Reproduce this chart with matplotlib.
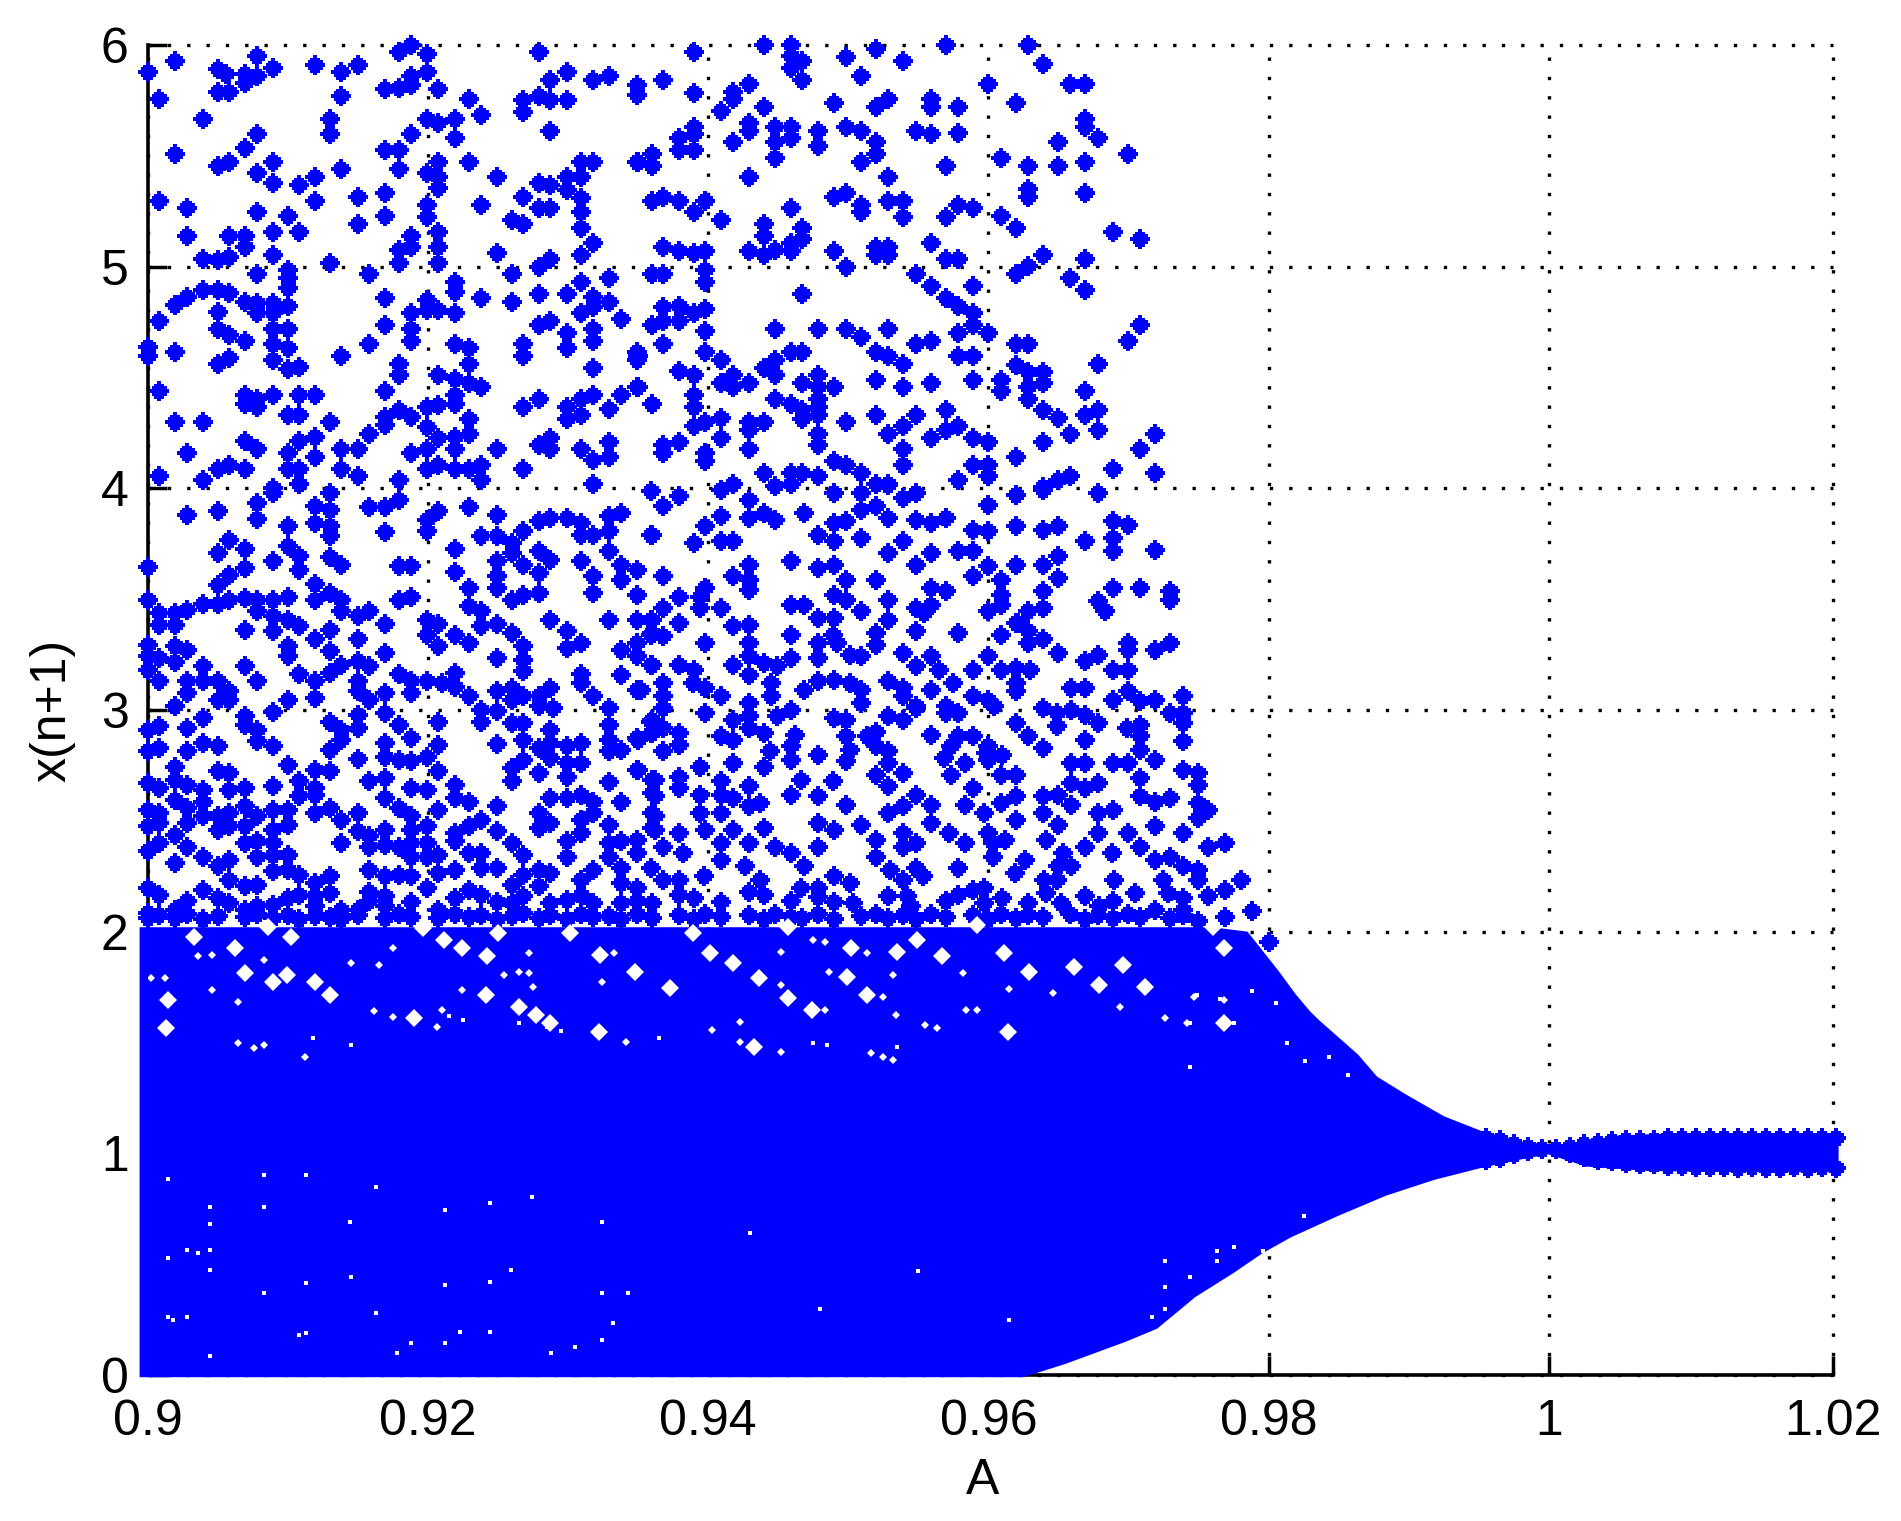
import matplotlib
matplotlib.use("Agg")
from matplotlib import pyplot as plt

plt.rcParams['font.family'] = ['Liberation Sans', 'DejaVu Sans']

x_ticks = [0.9, 0.92, 0.94, 0.96, 0.98, 1.0, 1.0203]
x_tick_labels = ['0.9', '0.92', '0.94', '0.96', '0.98', '1', '1.02']
y_ticks = [0, 1, 2, 3, 4, 5, 6]

# envelope of the solid part
upper_A = [0.8994, 0.91, 0.93, 0.95, 0.97, 0.976, 0.9785, 0.9795, 0.98075, 0.98191, 0.98297, 0.98362, 0.9864, 0.98775, 0.9898,
           0.99253, 0.99523, 0.99794, 0.99986, 1.0006, 1.00275, 1.00478, 1.0089, 1.0145, 1.0207]
upper_x = [2.02, 2.02, 2.02, 2.02, 2.02, 2.02, 2.0, 1.92, 1.82, 1.72, 1.64, 1.60, 1.445, 1.346, 1.266,
           1.167, 1.10, 1.055, 1.04, 1.03, 1.055, 1.08, 1.09, 1.09, 1.08]
lower_A = [0.8994, 0.9625, 0.9655, 0.9698, 0.97205, 0.97478, 0.9775, 0.97956, 0.9816, 0.98501, 0.98839, 0.99181,
           0.99523, 0.99859, 1.0, 1.0027, 1.0072, 1.014, 1.0207]
lower_x = [-0.01, -0.01, 0.05, 0.15, 0.209, 0.352, 0.46, 0.549, 0.621, 0.719, 0.809, 0.88,
           0.935, 0.98, 0.995, 0.94, 0.92, 0.915, 0.915]

# serrated tail, marker centres along both edges
tail_A = [.9955, .9965, .9975, .9985, .9995, 1.0005, 1.0015, 1.0025, 1.0035, 1.0045, 1.0055, 1.0065, 1.0075, 1.0085, 1.0095, 1.0105,
          1.0115, 1.0125, 1.0135, 1.0145, 1.0155, 1.0165, 1.0175, 1.0185, 1.0195, 1.0205]
tail_top = [1.07, 1.06, 1.04, 1.03, 1.02, 1.02, 1.03, 1.04, 1.045, 1.055, 1.06, 1.06, 1.06, 1.07, 1.07, 1.068,
            1.07, 1.068, 1.07, 1.068, 1.07, 1.068, 1.07, 1.068, 1.07, 1.068]
tail_bottom = [.97, .98, .995, 1.01, 1.02, 1.02, 1.0, .985, .97, .965, .955, .95, .95, .945, .945, .94,
               .938, .94, .936, .94, .936, .935, .94, .935, .938, .935]

# scattered points above the solid part
points_5_6 = [(.9188,6.0),(.9179,5.97),(.9199,5.96),(.9279,5.97),(.9019,5.93),(.9078,5.95),(.9,5.88),(.905,5.89),(.9056,5.87),
 (.9069,5.87),(.9078,5.86),(.9089,5.895),(.905,5.79),(.9058,5.79),(.9069,5.83),(.9119,5.91),(.9138,5.88),(.915,5.91),(.9199,5.88),
 (.9188,5.86),(.9169,5.80),(.9179,5.805),(.9188,5.82),(.9207,5.80),(.9299,5.88),(.9287,5.84),(.9318,5.84),(.9329,5.86),(.9349,5.82),
 (.9349,5.775),(.9008,5.755),(.9138,5.77),(.9229,5.755),(.9268,5.75),(.9279,5.77),(.9287,5.75),(.9299,5.75),(.9268,5.70),
 (.9039,5.666),(.913,5.666),(.9199,5.666),(.9207,5.65),(.9219,5.666),(.9238,5.684),(.9078,5.597),(.913,5.597),(.9188,5.597),(.9219,5.579),(.9287,5.613),
 (.9069,5.534),(.9019,5.508),(.9169,5.526),(.9179,5.526),(.936,5.508),(.9349,5.473),(.905,5.455),(.9058,5.473),(.9089,5.473),(.9078,5.421),
 (.9138,5.439),(.9179,5.439),(.9207,5.473),(.9229,5.473),(.9309,5.473),(.9318,5.473),(.9199,5.421),(.9249,5.403),(.9119,5.403),(.9108,5.368),(.9089,5.376),
 (.9207,5.403),(.9207,5.353),(.9279,5.376),(.9287,5.368),(.9299,5.403),(.9309,5.403),(.9299,5.346),(.9309,5.308),(.9008,5.297),(.9028,5.263),(.9119,5.297),
 (.915,5.315),(.9169,5.333),(.9268,5.315),(.9199,5.278),(.9238,5.28),(.936,5.297),(.9279,5.263),(.9287,5.263),(.9309,5.248),(.9078,5.245),(.91,5.228),(.9169,5.228),
 (.9199,5.225),(.915,5.192),(.926,5.21),(.9268,5.192),(.9028,5.139),(.9058,5.139),(.9069,5.139),(.9089,5.157),(.9108,5.157),(.9207,5.157),(.9188,5.139),(.9309,5.175),
 (.9069,5.09),(.9188,5.09),(.9207,5.087),(.9318,5.105),(.9249,5.06),(.9179,5.075),(.9039,5.035),(.905,5.03),(.9058,5.045),(.9089,5.052),(.913,5.018),(.9179,5.018),
 (.9207,5.018),(.9287,5.035),(.9279,5.0),(.9309,5.052),
 (.944,6.0),(.9459,6.0),(.952,5.98),(.957,6.0),(.9628,6.0),(.939,5.967),(.9459,5.95),(.9467,5.93),(.9498,5.948),(.9539,5.93),(.9639,5.913),(.9459,5.895),(.9509,5.86),
 (.9467,5.842),(.9368,5.842),(.9429,5.824),(.96,5.824),(.9658,5.824),(.9669,5.824),(.939,5.782),(.9418,5.79),(.9418,5.755),(.9409,5.704),(.944,5.719),(.949,5.737),
 (.9528,5.755),(.952,5.719),(.9559,5.755),(.9559,5.719),(.9578,5.719),(.962,5.737),(.9669,5.666),(.9669,5.631),(.9678,5.579),(.9429,5.65),(.9429,5.613),(.939,5.631),
 (.9379,5.579),(.939,5.597),(.9448,5.631),(.9459,5.631),(.9459,5.579),(.9448,5.561),(.9478,5.613),(.9478,5.544),(.9498,5.631),(.9509,5.613),(.952,5.561),(.9548,5.613),
 (.9559,5.597),(.9578,5.604),(.9418,5.561),(.965,5.561),(.9379,5.526),(.939,5.526),(.936,5.455),(.935,5.473),(.9448,5.491),(.952,5.508),(.9509,5.473),(.957,5.455),
 (.9609,5.491),(.9628,5.455),(.965,5.455),(.9669,5.473),(.97,5.508),(.9429,5.403),(.9528,5.403),(.9628,5.35),(.9669,5.333),(.9628,5.315),(.9368,5.315),(.9379,5.297),
 (.9398,5.297),(.939,5.245),(.9409,5.21),(.949,5.315),(.9498,5.333),(.9509,5.28),(.9509,5.245),(.9528,5.297),(.9539,5.297),(.9539,5.225),(.9459,5.263),(.9578,5.28),
 (.9589,5.263),(.957,5.225),(.9609,5.228),(.962,5.175),(.944,5.192),(.944,5.139),(.9467,5.175),(.9467,5.127),(.9459,5.105),(.9689,5.157),(.9708,5.123),(.9559,5.105),
 (.9368,5.087),(.9379,5.07),(.939,5.06),(.9398,5.07),(.9429,5.07),(.944,5.052),(.9448,5.075),(.9459,5.07),(.949,5.07),(.952,5.087),(.9528,5.087),(.952,5.052),(.9528,5.052),
 (.957,5.035),(.9578,5.035),(.9639,5.052),(.9669,5.035),(.9628,5.002),(.9498,5.0)]

points_4_5 = [(.9078,4.965),(.91,4.984),(.91,4.947),(.91,4.902),(.9158,4.965),(.926,4.965),(.9329,4.947),(.936,4.965),(.9219,4.932),(.9309,4.932),(.9219,4.887),
 (.9039,4.894),(.905,4.894),(.9058,4.879),(.9028,4.864),(.9019,4.826),(.9069,4.841),(.9078,4.834),(.9089,4.834),(.91,4.823),(.9169,4.86),(.9199,4.849),(.9238,4.86),(.926,4.841),
 (.9279,4.876),(.9299,4.876),(.9318,4.864),(.9329,4.841),(.9008,4.754),(.905,4.796),(.9078,4.789),(.9089,4.789),(.9188,4.789),(.9199,4.804),(.9207,4.804),(.9219,4.789),
 (.9309,4.789),(.9318,4.819),(.9338,4.763),(.905,4.718),(.9058,4.691),(.9089,4.718),(.91,4.718),(.9169,4.736),(.9188,4.718),(.9279,4.736),(.9287,4.754),(.9299,4.701),(.9318,4.718),
 (.936,4.736),(.9069,4.665),(.9188,4.665),(.9,4.638),(.9158,4.649),(.9219,4.649),(.9229,4.631),(.9089,4.649),(.91,4.631),(.9268,4.649),(.9318,4.665),(.9299,4.631),
 (.9019,4.613),(.9,4.596),(.9138,4.596),(.9268,4.596),(.9349,4.613),(.9349,4.578),(.9058,4.586),(.905,4.563),(.9089,4.578),(.91,4.54),(.9108,4.548),(.9179,4.563),(.9229,4.563),
 (.9179,4.51),(.9318,4.543),(.9207,4.51),(.9219,4.495),(.9229,4.473),(.9238,4.458),(.9008,4.438),(.9069,4.42),(.9078,4.405),(.9089,4.42),(.9108,4.42),(.9119,4.42),(.9169,4.438),
 (.9219,4.42),(.9349,4.458),(.9279,4.405),(.9318,4.42),(.9309,4.405),(.9338,4.42),(.9069,4.382),(.9078,4.367),(.9199,4.367),(.9207,4.375),(.9219,4.382),(.9268,4.367),
 (.9299,4.367),(.9329,4.36),(.936,4.382),(.91,4.333),(.9108,4.333),(.9169,4.322),(.9179,4.352),(.9188,4.322),(.9229,4.315),(.9299,4.315),(.9309,4.333),
 (.9019,4.297),(.9039,4.297),(.913,4.297),(.9169,4.285),(.9199,4.277),(.9158,4.247),(.9207,4.229),(.9219,4.232),(.9229,4.247),(.9119,4.232),(.9108,4.214),(.9069,4.214),(.9287,4.229),
 (.9329,4.209),(.9078,4.179),(.9028,4.16),(.91,4.16),(.9138,4.176),(.915,4.176),(.9188,4.16),(.9199,4.179),(.9219,4.179),(.9249,4.176),(.9279,4.194),(.9287,4.179),(.9309,4.176),
 (.9119,4.142),(.9329,4.142),(.9318,4.127),(.905,4.089),(.9058,4.107),(.9069,4.089),(.91,4.089),(.9108,4.089),(.9138,4.089),(.9199,4.089),(.9207,4.107),(.9219,4.089),(.9229,4.089),
 (.9238,4.107),(.9268,4.089),(.9008,4.054),(.9039,4.036),(.915,4.054),(.9238,4.036),(.9108,4.021),(.9179,4.036),(.9089,4.002),(.9318,4.021),
 (.9398,4.984),(.9398,4.932),(.936,4.965),(.9368,4.965),(.9548,4.965),(.9559,4.912),(.9589,4.912),(.9658,4.947),(.9669,4.894),(.962,4.965),(.9467,4.876),
 (.9368,4.819),(.9379,4.823),(.939,4.789),(.9398,4.807),(.9368,4.754),(.936,4.736),(.9379,4.754),(.957,4.86),(.9578,4.823),(.9589,4.789),(.9589,4.736),(.9398,4.709),
 (.9448,4.718),(.9478,4.718),(.9498,4.718),(.9509,4.683),(.9528,4.718),(.9578,4.701),(.96,4.701),(.9708,4.736),(.97,4.665),(.9368,4.649),(.9548,4.649),(.9559,4.665),
 (.962,4.649),(.9628,4.649),(.9398,4.613),(.9409,4.578),(.935,4.596),(.9459,4.613),(.9467,4.613),(.9448,4.578),(.944,4.543),(.9448,4.51),(.952,4.613),(.9528,4.596),
 (.9539,4.563),(.9578,4.596),(.9589,4.596),(.962,4.555),(.9639,4.525),(.9628,4.525),(.9678,4.56),(.9379,4.528),(.939,4.51),(.9418,4.51),(.9409,4.473),(.9418,4.458),
 (.9429,4.473),(.9478,4.51),(.9467,4.473),(.9478,4.458),(.949,4.458),(.952,4.49),(.9539,4.458),(.9559,4.473),(.9589,4.49),(.9609,4.49),(.9609,4.438),(.9628,4.458),
 (.9639,4.473),(.9628,4.405),(.9669,4.438),(.935,4.458),(.936,4.379),(.939,4.42),(.939,4.367),(.9448,4.405),(.9459,4.382),(.9467,4.352),(.9478,4.367),(.9478,4.405),
 (.939,4.28),(.9398,4.30),(.9409,4.318),(.9467,4.315),(.9478,4.33),(.9429,4.30),(.944,4.30),(.9429,4.262),(.9498,4.30),(.952,4.333),(.9548,4.333),(.957,4.352),(.9539,4.28),
 (.9528,4.244),(.9578,4.28),(.957,4.262),(.9559,4.229),(.9589,4.229),(.96,4.209),(.9639,4.352),(.965,4.318),(.9669,4.333),(.9678,4.352),(.9678,4.262),(.9658,4.244),
 (.9719,4.244),(.9639,4.209),(.9409,4.229),(.9478,4.244),(.9478,4.194),(.9379,4.209),(.9368,4.194),(.9368,4.16),(.9398,4.16),(.9398,4.124),(.9429,4.176),(.9539,4.176),
 (.9539,4.107),(.9708,4.176),(.962,4.142),(.949,4.124),(.9498,4.107),(.9509,4.071),(.9589,4.107),(.96,4.107),(.96,4.054),(.9689,4.089),(.9719,4.071),(.944,4.071),
 (.9459,4.071),(.9467,4.071),(.9478,4.054),(.9578,4.036),(.9658,4.054),(.965,4.036),(.9418,4.021),(.9459,4.018),(.952,4.018),(.9528,4.018),(.9639,4.006)]

points_3_4_left = [(.9028,3.881),(.905,3.896),(.9078,3.934),(.9089,3.979),(.9078,3.861),(.9119,3.919),(.9119,3.843),(.913,3.979),(.913,3.904),(.913,3.828),(.913,3.783),
 (.9158,3.916),(.9169,3.916),(.9179,3.949),(.91,3.828),(.9169,3.801),(.9207,3.896),(.9199,3.858),(.9199,3.806),(.9229,3.916),(.9249,3.881),(.9238,3.783),(.9249,3.783),
 (.926,3.753),(.9268,3.806),(.9279,3.851),(.9287,3.866),(.9299,3.866),(.9309,3.843),(.9309,3.791),(.9318,3.791),(.9329,3.806),(.9329,3.874),(.9338,3.889),(.936,3.791),
 (.9058,3.768),(.9069,3.726),(.905,3.708),(.91,3.741),(.9108,3.693),(.9089,3.674),(.9108,3.633),(.913,3.69),(.9138,3.655),(.9219,3.726),(.9249,3.674),(.926,3.708),(.9268,3.655),
 (.9279,3.716),(.9287,3.678),(.9279,3.618),(.9309,3.674),(.9329,3.716),(.9,3.645),(.9069,3.64),(.9058,3.61),(.905,3.565),(.9119,3.568),(.9179,3.651),(.9188,3.651),(.9219,3.621),
 (.9249,3.603),(.9249,3.55),(.9229,3.55),(.9318,3.603),(.9318,3.528),(.9338,3.655),(.9349,3.633),(.9338,3.588),(.9349,3.52),
 (.9,3.497),(.9008,3.437),(.9019,3.437),(.9028,3.452),(.9039,3.479),(.905,3.479),(.9058,3.497),(.9069,3.505),(.9078,3.497),(.9089,3.497),(.91,3.512),(.9078,3.445),(.9119,3.497),
 (.913,3.528),(.9138,3.497),(.9138,3.445),(.915,3.422),(.9158,3.445),(.9179,3.497),(.9188,3.512),(.9229,3.467),(.9238,3.445),(.926,3.497),(.9268,3.52),(.9279,3.528),
 (.9008,3.385),(.9019,3.385),(.9089,3.422),(.9089,3.355),(.91,3.407),(.9108,3.377),(.9069,3.359),(.913,3.359),(.9119,3.32),(.915,3.32),(.9169,3.389),(.9199,3.407),(.9207,3.389),
 (.9199,3.34),(.9219,3.34),(.9238,3.377),(.9249,3.389),(.926,3.347),(.9229,3.302),(.9287,3.407),(.9299,3.355),(.9329,3.407),(.9349,3.407),(.936,3.407),(.936,3.347),
 (.9,3.294),(.9,3.242),(.9019,3.287),(.9028,3.269),(.9008,3.234),(.9019,3.215),(.91,3.287),(.91,3.242),(.913,3.267),(.9207,3.287),(.9268,3.287),(.9268,3.227),(.9249,3.234),
 (.9299,3.279),(.9309,3.302),(.9338,3.272),(.9349,3.302),(.9349,3.242),
 (.9,3.182),(.9039,3.2),(.9069,3.2),(.9008,3.129),(.9028,3.129),(.9039,3.129),(.905,3.129),(.9078,3.129),(.9108,3.164),(.9119,3.129),(.913,3.167),(.9138,3.204),(.915,3.219),
 (.9169,3.257),(.9158,3.197),(.915,3.129),(.9179,3.164),(.9188,3.129),(.9199,3.129),(.921,3.121),(.9219,3.167),(.9268,3.174),(.9309,3.164),(.9309,3.121),(.9338,3.159),
 (.936,3.204),(.9349,3.091),(.9028,3.076),(.9058,3.084),(.905,3.046),(.91,3.046),(.9119,3.054),(.915,3.084),(.9169,3.076),(.9158,3.046),(.9188,3.076),(.9219,3.106),
 (.9229,3.061),(.9249,3.084),(.926,3.099),(.9268,3.061),(.9279,3.061),(.9287,3.099),(.9318,3.061),(.9329,3.009),
 (.9019,3.016),(.9058,3.046),(.9039,2.963),(.9069,2.971),(.9089,2.99),(.915,2.979),(.9169,2.986),(.9238,3.001),(.9249,2.994),(.926,3.046),(.9279,3.016),(.9289,3.009),
 (.9238,2.948),(.9207,2.948),(.9008,2.926),(.9,2.911),(.9028,2.918),(.9078,2.911),(.9069,2.933),(.913,2.948),(.9138,2.911),(.915,2.918),(.9179,2.933),(.926,2.941),(.9268,2.941),
 (.9287,2.911),(.9329,2.933),(.936,2.956),(.936,2.896),
 (.9039,2.851),(.905,2.836),(.9,2.813),(.9008,2.828),(.9028,2.813),(.9078,2.858),(.9089,2.836),(.913,2.821),(.9138,2.866),(.9169,2.851),(.9188,2.873),(.9207,2.843),(.9249,2.846),
 (.9268,2.866),(.9279,2.828),(.9287,2.851),(.9309,2.851),(.9299,2.836),(.9329,2.866),(.9349,2.873)]

points_2_3_left = [(.9019,2.745),(.91,2.753),(.9119,2.73),(.913,2.723),(.915,2.778),(.9169,2.79),(.9179,2.775),(.9188,2.768),(.9199,2.79),(.926,2.738),(.9268,2.775),
 (.9287,2.783),(.9299,2.76),(.9309,2.76),(.9338,2.821),(.9329,2.813),(.9019,2.685),(.905,2.723),(.9058,2.715),(.9028,2.663),(.9,2.67),(.9008,2.648),(.9039,2.64),(.9069,2.648),
 (.9058,2.64),(.9089,2.655),(.9108,2.678),(.9119,2.648),(.9158,2.678),(.9169,2.693),(.9188,2.648),(.9199,2.64),(.9207,2.723),(.9219,2.663),(.926,2.678),(.9279,2.715),
 (.9299,2.7),(.9329,2.673),(.9349,2.73),(.936,2.685),(.9019,2.595),(.9039,2.587),(.9108,2.61),(.9119,2.618),(.9169,2.603),(.9219,2.603),(.9229,2.587),(.9249,2.568),
 (.9287,2.603),(.9299,2.603),(.9309,2.618),(.9318,2.587),(.9338,2.587),(.936,2.625),
 (.9,2.55),(.9008,2.535),(.9028,2.557),(.9039,2.52),(.905,2.52),(.9058,2.535),(.9069,2.565),(.9078,2.52),(.9089,2.55),(.91,2.55),(.9119,2.535),(.913,2.557),(.915,2.535),
 (.9138,2.505),(.9179,2.557),(.9188,2.52),(.9207,2.55),(.9238,2.505),(.9229,2.475),(.9279,2.535),(.9287,2.49),(.9309,2.505),(.9318,2.535),(.9329,2.483),(.936,2.535),
 (.9,2.475),(.9008,2.49),(.9028,2.49),(.9019,2.437),(.905,2.46),(.9058,2.475),(.9069,2.475),(.9089,2.46),(.91,2.482),(.915,2.452),(.9158,2.43),(.9169,2.46),(.9188,2.46),(.9199,2.475),
 (.9219,2.445),(.9249,2.452),(.9279,2.467),(.9309,2.445),(.936,2.467),
 (.9008,2.399),(.9,2.362),(.9028,2.384),(.9069,2.399),(.9078,2.407),(.9089,2.399),(.9138,2.399),(.9158,2.384),(.9169,2.392),(.9179,2.384),(.9188,2.399),(.9199,2.399),(.9219,2.407),
 (.926,2.399),(.9299,2.407),(.9329,2.399),(.9338,2.407),(.9349,2.414),
 (.9019,2.309),(.9039,2.339),(.905,2.294),(.9058,2.324),(.9078,2.339),(.9089,2.347),(.91,2.347),(.9188,2.339),(.9199,2.339),(.9207,2.347),(.9229,2.354),(.9238,2.354),(.9268,2.347),
 (.9299,2.339),(.9329,2.339),(.9349,2.354),(.9158,2.279),(.9089,2.272),(.91,2.279),(.9108,2.257),(.913,2.249),(.9058,2.234),(.9169,2.249),(.9179,2.257),(.9188,2.249),(.9207,2.264),
 (.9219,2.279),(.9238,2.287),(.9249,2.287),(.9268,2.257),(.9279,2.279),(.9287,2.264),(.9309,2.234),(.9318,2.279),(.9338,2.287),
 (.9,2.197),(.9008,2.166),(.9039,2.189),(.905,2.151),(.9069,2.204),(.9078,2.212),(.9119,2.219),(.913,2.174),(.9119,2.159),(.9158,2.181),(.9199,2.197),(.9229,2.189),(.9238,2.166),
 (.926,2.212),(.9279,2.204),(.9338,2.219),(.9349,2.197),
 (.9,2.083),(.9019,2.099),(.9069,2.099),(.9078,2.114),(.9089,2.121),(.9119,2.114),(.9138,2.099),(.915,2.099),(.9169,2.114),
 (.9207,2.099),(.926,2.129),(.9287,2.129),(.9318,2.129),(.9338,2.129),(.936,2.129)]

# rows just above the solid part, mostly joined up in the picture
points_near_2 = [(.9,2.06),(.9008,2.075),(.9019,2.06),(.9028,2.08),(.9039,2.055),(.905,2.07),(.9069,2.065),(.9078,2.08),(.9089,2.06),(.91,2.075),(.9108,2.055),(.9119,2.07),
 (.913,2.065),(.9138,2.055),(.915,2.075),(.9169,2.06),(.9179,2.08),(.9188,2.065),(.9207,2.06),(.9219,2.08),(.9229,2.065),(.9238,2.075),(.9249,2.055),(.926,2.07),(.9268,2.085),(.9279,2.06),
 (.9287,2.075),(.9299,2.055),(.9309,2.08),(.9318,2.065),(.9329,2.07),(.9338,2.055),(.9349,2.08),(.936,2.06),(.9379,2.075),(.939,2.055),(.9398,2.08),(.9409,2.065),(.9429,2.075),(.944,2.055),
 (.9448,2.08),(.9459,2.065),(.9467,2.06),(.9478,2.08),(.949,2.055),(.9509,2.07),(.952,2.08),(.9528,2.06),(.9539,2.075),(.9548,2.055),(.9559,2.08),(.957,2.065),(.9589,2.075),(.96,2.055),
 (.9609,2.08),(.962,2.06),(.9628,2.075),(.9639,2.065),(.9658,2.08),(.9669,2.055),(.9678,2.075),(.9689,2.06),(.97,2.08),(.9708,2.065),(.973,2.06),(.9739,2.075),(.975,2.05),
 (.9028,2.14),(.9058,2.13),(.91,2.15),(.9108,2.165),(.9158,2.14),(.9169,2.16),(.9188,2.135),(.9219,2.15),(.9249,2.135),(.9268,2.16),(.9299,2.145),(.9309,2.165),(.9349,2.14),
 (.939,2.15),(.9409,2.135),(.944,2.165),(.9459,2.14),(.9478,2.155),(.949,2.135),(.9528,2.16),(.957,2.14),(.9578,2.165),(.961,2.15),(.9628,2.13),(.9669,2.16),(.9689,2.14),(.9739,2.15)]

points_3_4_right = [(.9359,3.986),(.9379,3.964),(.9368,3.919),(.9409,3.994),(.9429,3.949),(.9448,4.009),(.949,3.979),(.9509,3.979),(.9528,4.016),(.9539,3.956),(.9548,3.979),
 (.96,3.926),(.962,3.971),(.9639,3.994),(.9678,3.979),(.9409,3.874),(.9429,3.866),(.944,3.889),(.9448,3.858),(.9468,3.889),(.9509,3.904),(.952,3.919),(.9528,3.866),
 (.9548,3.858),(.9559,3.843),(.957,3.866),(.9398,3.828),(.9359,3.791),(.9478,3.791),(.949,3.843),(.9498,3.851),(.9509,3.776),(.949,3.761),(.9589,3.813),(.96,3.806),(.962,3.828),
 (.9639,3.813),(.965,3.828),(.9689,3.851),(.97,3.836),(.9689,3.776),(.9669,3.761),(.9689,3.716),
 (.939,3.753),(.9409,3.761),(.9418,3.761),(.9539,3.761),(.9528,3.708),(.9559,3.708),(.9578,3.716),(.9589,3.716),(.9719,3.723),(.9429,3.655),(.9459,3.67),(.9478,3.64),
 (.949,3.655),(.9548,3.655),(.96,3.648),(.962,3.655),(.9639,3.655),(.965,3.693),(.965,3.595),(.9368,3.603),(.9418,3.603),(.9429,3.588),(.9498,3.588),(.952,3.588),(.9589,3.603),
 (.9609,3.588),(.9559,3.55),(.957,3.535),(.9429,3.542),(.9398,3.55),(.9379,3.512),(.9394,3.512),(.949,3.52),(.9498,3.497),(.9528,3.497),(.9639,3.535),(.9689,3.55),(.9708,3.55),
 (.973,3.535),(.9609,3.52),(.9609,3.475),(.9678,3.49),
 (.9459,3.475),(.9468,3.475),(.9394,3.46),(.9409,3.46),(.9368,3.46),(.9359,3.407),(.9509,3.445),(.9548,3.46),(.9559,3.475),(.9554,3.437),(.96,3.445),(.9628,3.445),(.9639,3.46),
 (.9683,3.445),(.973,3.497),(.9379,3.392),(.9478,3.415),(.949,3.415),(.9528,3.407),(.9621,3.392),(.9418,3.377),(.9429,3.385),(.9489,3.339),(.9459,3.34),(.9359,3.34),(.9368,3.332),
 (.9398,3.302),(.9548,3.355),(.952,3.347),(.9578,3.347),(.9609,3.339),(.962,3.392),(.9628,3.355),(.9639,3.32),(.97,3.302),(.973,3.302),(.9719,3.272),
 (.9429,3.302),(.9478,3.302),(.9492,3.302),(.952,3.294),(.97,3.272),(.9628,3.302),
 (.9539,3.257),(.9559,3.242),(.96,3.242),(.965,3.257),(.9669,3.219),(.9678,3.249),(.9429,3.242),(.9459,3.234),(.9478,3.234),(.9501,3.249),(.9509,3.242),
 (.9359,3.204),(.9379,3.204),(.939,3.182),(.9418,3.204),(.944,3.212),(.9429,3.159),(.9449,3.197),(.9548,3.197),(.9565,3.182),(.9589,3.182),(.9609,3.182),(.962,3.189),(.963,3.182),
 (.9689,3.182),(.97,3.182),
 (.9368,3.121),(.9389,3.121),(.9398,3.099),(.9445,3.121),(.9478,3.129),(.949,3.136),(.9501,3.121),(.9528,3.129),(.9539,3.099),(.9575,3.121),(.962,3.121),(.9659,3.099),(.9669,3.099),
 (.97,3.084),(.9352,3.091),(.9368,3.061),(.9409,3.061),(.9445,3.061),(.9468,3.091),(.9509,3.091),(.9539,3.061),(.9559,3.091),(.9589,3.061),(.96,3.046),(.962,3.084),(.9689,3.046),
 (.9708,3.039),(.9719,3.046),(.9739,3.061),
 (.9368,3.009),(.9398,2.986),(.9429,3.031),(.9459,3.001),(.9449,2.971),(.9509,3.031),(.9528,2.971),(.9548,3.009),(.9548,3.016),(.957,3.016),(.957,2.986),(.9604,3.016),(.9578,2.986),
 (.9639,3.009),(.9649,2.986),(.9659,3.001),(.9669,2.979),(.9678,2.941),(.973,2.986),(.9739,2.986)]

points_2_3_right = [(.9359,2.948),(.9418,2.956),(.9429,2.971),(.949,2.964),(.9498,2.956),(.9539,2.956),(.962,2.941),(.9649,2.926),(.9699,2.918),(.9708,2.933),(.9739,2.941),
 (.9359,2.896),(.9379,2.896),(.9368,2.918),(.9409,2.881),(.9418,2.866),(.9429,2.918),(.944,2.896),(.9462,2.888),(.9498,2.881),(.9513,2.881),(.952,2.903),(.9559,2.888),(.9578,2.881),
 (.9669,2.866),(.9739,2.858),(.9708,2.881),(.9628,2.881),(.9589,2.881),(.96,2.836),
 (.935,2.866),(.9379,2.843),(.9368,2.813),(.9444,2.813),(.9459,2.836),(.9478,2.798),(.9501,2.821),(.952,2.836),(.9528,2.813),(.9573,2.836),(.9568,2.783),(.9639,2.828),(.9708,2.821),
 (.9598,2.806),(.961,2.798),
 (.9418,2.761),(.9394,2.745),(.944,2.745),(.9459,2.775),(.9498,2.768),(.9528,2.761),(.96,2.775),(.9583,2.761),(.9659,2.761),(.9669,2.761),(.9689,2.761),(.97,2.761),(.9719,2.775),
 (.9739,2.73),(.975,2.715),(.935,2.73),(.9362,2.685),(.9379,2.7),(.9409,2.678),(.9429,2.655),(.9466,2.685),(.9489,2.678),(.952,2.707),(.9539,2.715),(.9528,2.655),
 (.9573,2.708),(.9589,2.648),(.9609,2.708),(.962,2.708),(.9659,2.67),(.9678,2.67),(.9708,2.693),(.975,2.663),
 (.9362,2.61),(.9379,2.648),(.9394,2.618),(.9409,2.618),(.9418,2.603),(.9437,2.58),(.9459,2.618),(.9478,2.61),(.9498,2.572),(.9548,2.618),(.9559,2.572),(.9583,2.572),(.9609,2.58),
 (.962,2.61),(.9639,2.61),(.965,2.618),(.9659,2.572),(.9669,2.648),(.9708,2.61),(.9719,2.587),(.973,2.602),(.975,2.58),(.9757,2.55),
 (.9362,2.52),(.9394,2.535),(.9409,2.535),(.9429,2.565),(.9478,2.49),(.9528,2.535),(.9539,2.565),(.9559,2.49),(.9597,2.535),(.962,2.505),(.9639,2.535),(.965,2.483),(.9678,2.535),
 (.9689,2.55),(.9719,2.475),(.9739,2.445),(.975,2.512),
 (.9362,2.46),(.9379,2.445),(.9398,2.46),(.9418,2.46),(.944,2.467),(.9448,2.384),(.9459,2.354),(.949,2.46),(.9509,2.482),(.952,2.414),(.9539,2.445),(.9548,2.399),(.9572,2.445),
 (.96,2.445),(.9612,2.414),(.9641,2.414),(.9678,2.445),(.97,2.445),(.9757,2.384),(.9769,2.399),
 (.9368,2.384),(.9409,2.399),(.9429,2.399),(.9478,2.384),(.9520,2.339),(.9539,2.384),(.9583,2.399),(.9603,2.399),(.9653,2.354),(.9669,2.384),(.9688,2.354),(.9708,2.384),
 (.9359,2.287),(.9382,2.354),(.9409,2.324),(.9468,2.294),(.9530,2.279),(.9548,2.287),(.9578,2.287),(.9603,2.339),(.9619,2.264),(.9626,2.324),(.965,2.294),(.9659,2.294),(.973,2.339),
 (.9739,2.294),(.9719,2.324),(.975,2.279),
 (.9368,2.234),(.9379,2.234),(.9397,2.249),(.9426,2.294),(.9437,2.234),(.9490,2.249),(.9501,2.219),(.9539,2.234),(.9553,2.249),(.9589,2.189),(.9649,2.234),(.9640,2.234),(.9690,2.234),
 (.9725,2.234),(.975,2.234),(.978,2.234),(.9379,2.166),(.9429,2.181),(.9466,2.197),(.9478,2.197),(.9542,2.159),(.9597,2.197),(.9641,2.174),(.9705,2.174),(.9728,2.174),
 (.9757,2.159),(.9769,2.189),(.9788,2.093),(.9769,2.068),(.9719,2.099),(.9739,2.099),(.9679,2.114),(.9652,2.129),(.9597,2.129),(.9503,2.129),(.9545,2.114),(.98,1.955)]

# holes and specks in the solid part
specks_A = [.9014,.9083,.9113,.9163,.9274,.9044,.9083,.9212,.9244,.9044,.9144,.9324,.9028,.9036,.9044,.9014,.9044,.9113,.9145,.9212,.9244,.9259,.9083,.9324,.9343,.9014,.9018,.9028,
            .9163,.9332,.9113,.9108,.9223,.9244,.9188,.9212,.9324,.9305,.9044,.9178,.9288,.9118,.9145,.9215,.9225,.9265,.9285,.9295,.9365,.9475,.9485,.9535,.948,.955,.943,.9615,
            .9775,.9744,.9813,.9843,.9826,.9857,.9744,.9749,.9788,.9765,.9805,.9825,.9775,.9763,.9763,.9796,.9726,.9726,.9744,.9726,.9717]
specks_x = [.883,.903,.903,.85,.805,.76,.76,.745,.778,.682,.69,.692,.565,.55,.565,.527,.474,.414,.443,.406,.421,.474,.368,.368,.368,.263,.248,.263,
            .278,.233,.188,.18,.196,.196,.143,.143,.158,.128,.086,.098,.098,1.52,1.49,1.62,1.60,1.59,1.57,1.55,1.52,1.50,1.49,1.48,.30,.47,.64,.25,
            1.588,1.588,1.498,1.436,1.418,1.355,1.391,1.713,1.731,1.695,1.677,.719,.576,.558,.513,.558,.513,.397,.442,.298,.262]
big_holes_A = [.9086,.9102,.9033,.9062,.9196,.9211,.9224,.9242,.925,.9301,.9323,.9348,.9119,.9089,.9099,.9069,.913,.9373,.9265,.9277,.9287,.919,.9013,.9322,.9014,.9241,
               .9418,.9436,.9401,.9457,.9549,.9567,.9592,.9611,.9661,.9629,.976,.9768,.9712,.9696,.9499,.9457,.9513,.9474,.9614,.9433,.9768,.9389,.9679,.9535,.9502]
big_holes_x = [2.023,1.978,1.978,1.925,2.015,1.963,1.925,1.888,1.993,1.993,1.895,1.82,1.775,1.775,1.805,1.812,1.715,1.745,1.662,1.624,1.587,1.609,1.564,1.549,1.692,1.715,
               1.857,1.79,1.903,2.023,1.963,1.888,2.03,1.903,1.842,1.82,2.023,1.925,1.752,1.85,1.797,1.699,1.715,1.647,1.549,1.481,1.587,1.993,1.76,1.91,1.925]
mid_holes_A = [.9002,.9012,.9046,.9064,.9083,.9145,.9165,.9175,.9224,.9175,.9161,.921,.9206,.9064,.9076,.9083,.9112,.9341,.9275,.9254,.9265,.9272,.9324,.9333,.9272,.9036,.9046,
               .9452,.9475,.9483,.9513,.9486,.9532,.9452,.9525,.9534,.9483,.9555,.9563,.9584,.9592,.9423,.9403,.9423,.9452,.9516,.9525,.9532,.9582,.9615,.9646,.9694,.9747,.9768,.9726,.9742]
mid_holes_x = [1.79,1.79,1.737,1.684,1.873,1.857,1.85,1.925,1.737,1.617,1.64,1.647,1.572,1.497,1.474,1.489,1.436,1.504,1.752,1.805,1.82,1.812,1.775,1.903,1.903,1.888,1.895,
               1.91,1.963,1.955,1.903,1.82,1.805,1.76,1.707,1.624,1.647,1.579,1.564,1.647,1.647,1.594,1.557,1.504,1.459,1.451,1.436,1.421,1.812,1.742,1.722,1.662,1.707,1.692,1.609,1.587]

fig = plt.figure(figsize=(19.01, 15.21), dpi=100)
ax = fig.add_axes([148/1901, 1 - 1375/1521, (1833 - 148)/1901, (1375 - 45)/1521])

# stepped diamond, the marker looks like this once the image was enlarged
star = [(1.8, 10), (1.8, 7.5), (5, 7.5), (5, 5), (7.5, 5), (7.5, 1.8), (10, 1.8), (10, -1.8), (7.5, -1.8), (7.5, -5), (5, -5), (5, -7.5), (1.8, -7.5), (1.8, -10),
        (-1.8, -10), (-1.8, -7.5), (-5, -7.5), (-5, -5), (-7.5, -5), (-7.5, -1.8), (-10, -1.8), (-10, 1.8), (-7.5, 1.8), (-7.5, 5), (-5, 5), (-5, 7.5), (-1.8, 7.5), (-1.8, 10)]

ax.fill(upper_A + lower_A[::-1], upper_x + lower_x[::-1], color='#0000ff', lw=0, zorder=3, clip_on=False)

bands = [points_5_6, points_4_5, points_3_4_left, points_2_3_left, points_near_2, points_3_4_right, points_2_3_right]
for band in bands:
    a_vals = [p[0] for p in band]
    x_vals = [p[1] for p in band]
    ax.plot(a_vals, x_vals, ls='none', marker=star, ms=14.4, mew=0, color='#0000ff', zorder=3, clip_on=False)

ax.plot(tail_A, tail_top, ls='none', marker=star, ms=14.4, mew=0, color='#0000ff', zorder=3, clip_on=False)
ax.plot(tail_A, tail_bottom, ls='none', marker=star, ms=14.4, mew=0, color='#0000ff', zorder=3, clip_on=False)

ax.plot(big_holes_A, big_holes_x, ls='none', marker='D', ms=9, mew=0, color='white', zorder=4)
ax.plot(mid_holes_A, mid_holes_x, ls='none', marker='D', ms=4, mew=0, color='white', zorder=4)
ax.plot(specks_A, specks_x, ls='none', marker='s', ms=2.8, mew=0, color='white', zorder=4)

ax.set_xlim(0.9, 1.0203)
ax.set_ylim(0, 6)
ax.set_xticks(x_ticks)
ax.set_xticklabels(x_tick_labels)
ax.set_yticks(y_ticks)
ax.tick_params(direction='in', length=14, width=2.5, labelsize=36, pad=14, top=False, right=False)
ax.tick_params(axis='x', pad=17)
ax.set_xlabel('A', fontsize=36, labelpad=12)
ax.xaxis.set_label_coords(0.4955, -0.0625, transform=ax.transAxes)
ax.xaxis.label.set_verticalalignment('top')
ax.set_ylabel('x(n+1)', fontsize=36, labelpad=18)

ax.grid(True, color='black', linewidth=2.4, linestyle=(0, (1, 4.8)), clip_on=False)
ax.set_axisbelow(True)
ax.spines['top'].set_visible(False)
ax.spines['right'].set_visible(False)
ax.spines['left'].set_linewidth(2.6)
ax.spines['bottom'].set_linewidth(2.6)

plt.savefig('out.png', dpi=100)
